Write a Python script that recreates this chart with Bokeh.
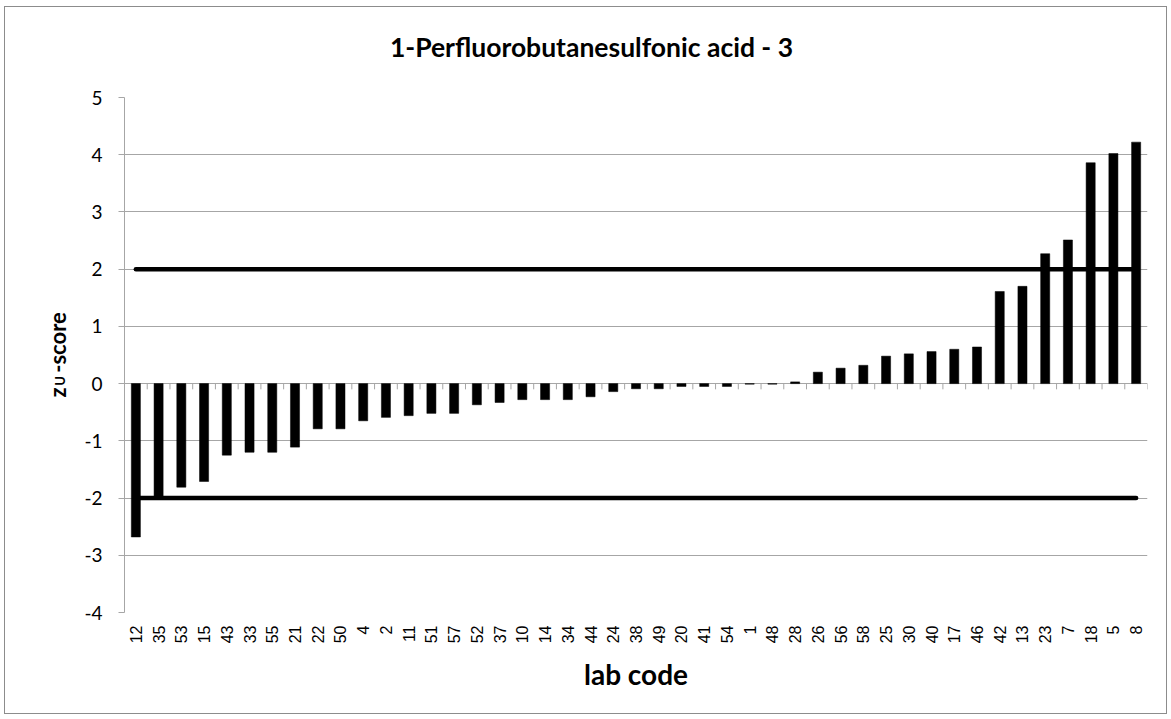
from bokeh.plotting import figure
from bokeh.models import ColumnDataSource, FactorRange, Range1d, FixedTicker
from bokeh.layouts import row, column
from bokeh.transform import dodge
from bokeh.core.properties import value
from bokeh.embed import file_html
from bokeh.resources import INLINE
import math

# ---- data ----
labs = ["12", "35", "53", "15", "43", "33", "55", "21", "22", "50", "4", "2", "11", "51", "57",
        "52", "37", "10", "14", "34", "44", "24", "38", "49", "20", "41", "54", "1", "48", "28",
        "26", "56", "58", "25", "30", "40", "17", "46", "42", "13", "23", "7", "18", "5", "8"]
z_scores = [-2.68, -1.99, -1.81, -1.71, -1.25, -1.20, -1.20, -1.11, -0.79, -0.79, -0.65, -0.59,
            -0.56, -0.52, -0.52, -0.37, -0.33, -0.28, -0.28, -0.28, -0.23, -0.14, -0.09, -0.09,
            -0.05, -0.05, -0.05, -0.01, -0.01, 0.03, 0.20, 0.27, 0.32, 0.48, 0.52, 0.56, 0.60,
            0.64, 1.61, 1.70, 2.27, 2.51, 3.86, 4.02, 4.22]
upper_limit = 2
lower_limit = -2
y_ticks = [-4, -3, -2, -1, 0, 1, 2, 3, 4, 5]
title_text = "1-Perfluorobutanesulfonic acid - 3"
x_title = "lab code"
y_title_main, y_title_sub, y_title_rest = "z", "U", "-score"

GRID = "#a6a6a6"
OX, OY = 5, 7              # page position of the canvas origin
TOTAL_W, TOTAL_H = 1161, 706
TOP_H = 60                 # strip holding the chart title
LEFT_W = 76                # strip holding the y-axis title
FL, FT = 124, 97           # page position of the plot frame
FW, FH = 1023, 515         # plot frame size
MAIN_W = TOTAL_W - LEFT_W
MAIN_H = TOTAL_H - TOP_H
ML = FL - OX - LEFT_W      # frame offset inside the main canvas
MT = FT - OY - TOP_H
MB = MAIN_H - MT - FH


def blank(width, height, xr, yr, top=0, bottom=0):
    f = figure(width=width, height=height, output_backend="svg", toolbar_location=None,
               title=None, x_range=xr, y_range=yr,
               x_axis_location=None, y_axis_location=None,
               min_border=0, min_border_left=0, min_border_right=0,
               min_border_top=top, min_border_bottom=bottom)
    f.grid.visible = False
    f.outline_line_color = None
    f.background_fill_color = "white"
    f.border_fill_color = "white"
    return f


# ---- title strip: coordinates are page pixels ----
tp = blank(TOTAL_W, TOP_H, Range1d(OX, OX + TOTAL_W), Range1d(OY + TOP_H, OY))
tp.text(x=[591], y=[46], text=[title_text], text_align="center",
        text_baseline="middle", text_font=value("Lato"), text_font_style="bold",
        text_font_size="26.5px", text_color="black")

# ---- y title strip: its frame lines up with the main frame; coordinates are page pixels ----
lp = blank(LEFT_W, MAIN_H, Range1d(OX, OX + LEFT_W), Range1d(FT + FH, FT), top=MT, bottom=MB)
ytxt = dict(angle=math.pi / 2, text_align="center", text_baseline="middle",
            text_font=value("Lato"), text_font_style="bold", text_color="black")
lp.text(x=[56.5], y=[392], text=[y_title_main], text_font_size="22px", **ytxt)
lp.text(x=[59.5], y=[380.5], text=[y_title_sub], text_font_size="13px", **ytxt)
lp.text(x=[56.5], y=[342], text=[y_title_rest], text_font_size="22px", **ytxt)

# ---- main chart ----
p = figure(width=MAIN_W, height=MAIN_H, output_backend="svg", toolbar_location=None,
           x_range=FactorRange(factors=labs, range_padding=0),
           y_range=Range1d(y_ticks[0], y_ticks[-1]),
           min_border_left=ML, min_border_right=MAIN_W - ML - FW,
           min_border_top=MT, min_border_bottom=MB)
p.outline_line_color = None
p.background_fill_color = "white"
p.border_fill_color = "white"

src = ColumnDataSource(dict(lab=labs, z=z_scores))

# category boundary ticks on the zero line
p.segment(x0=dodge("lab", 0.5, range=p.x_range), y0=0,
          x1=dodge("lab", 0.5, range=p.x_range), y1=-0.1,
          source=src, line_color=GRID, line_width=1)

p.vbar(x="lab", top="z", bottom=0, width=0.4, source=src,
       fill_color="black", line_color="black", line_width=0.5)

for lim in (upper_limit, lower_limit):
    p.line(x=[labs[0], labs[-1]], y=[lim, lim], line_color="black",
           line_width=4.5, line_cap="round")

p.ygrid.ticker = FixedTicker(ticks=y_ticks)
p.ygrid.grid_line_color = GRID
p.xgrid.grid_line_color = None

yax = p.yaxis[0]
yax.ticker = FixedTicker(ticks=y_ticks)
yax.major_label_overrides = {t: str(t) for t in y_ticks}
yax.axis_line_color = GRID
yax.major_tick_line_color = GRID
yax.major_tick_out = 6
yax.major_tick_in = 0
yax.minor_tick_line_color = None
yax.major_label_standoff = 16
yax.major_label_text_font = "Lato"
yax.major_label_text_font_size = "19px"
yax.major_label_text_color = "black"

xax = p.xaxis[0]
xax.axis_line_color = None
xax.major_tick_line_color = None
xax.major_label_orientation = math.pi / 2
xax.major_label_standoff = 7
xax.major_label_text_font = "Liberation Sans"
xax.major_label_text_font_size = "16px"
xax.major_label_text_color = "black"
xax.axis_label = x_title
xax.axis_label_text_font = "Lato"
xax.axis_label_text_font_style = "bold"
xax.axis_label_text_font_size = "28px"
xax.axis_label_text_color = "black"
xax.axis_label_standoff = 11

layout = column(tp, row(lp, p, spacing=0), spacing=0)
layout.styles = {"border": "1px solid #8c8c8c", "margin-left": "4px", "margin-top": "6px",
                 "width": "fit-content"}

open("out.html", "w").write(file_html(layout, INLINE))
